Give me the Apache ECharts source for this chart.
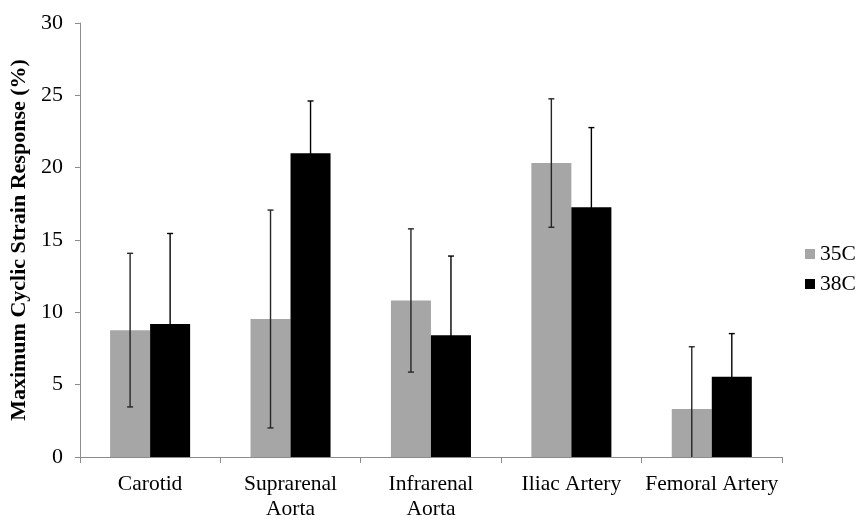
<!DOCTYPE html>
<html>
<head>
<meta charset="utf-8">
<script src="https://cdn.jsdelivr.net/npm/echarts@6/dist/echarts.min.js"></script>
<style>
  html, body { margin: 0; padding: 0; background: #fff; }
  #chart { width: 858px; height: 522px; }
</style>
</head>
<body>
<div id="chart"></div>
<script>
// Arterial segments along the x axis
const categories = ['Carotid', 'Suprarenal\nAorta', 'Infrarenal\nAorta', 'Iliac Artery', 'Femoral Artery'];
const seriesNames = ['35C', '38C'];

// Mean maximum cyclic strain (%) and error (±) per segment
const strain35 = [8.77, 9.54, 10.82, 20.32, 3.31];
const error35 = [5.31, 7.53, 4.95, 4.44, 4.31];
const strain38 = [9.20, 20.99, 8.42, 17.27, 5.54];
const error38 = [6.25, 3.62, 5.47, 5.50, 2.99];

const yTicks = { min: 0, max: 30, interval: 5 };

const FONT = '"Liberation Serif", "Times New Roman", serif';
const CAT_GAP = 0.43; // barCategoryGap fraction
const AXIS_GRAY = '#8c8c8c';

const chart = echarts.init(document.getElementById('chart'));

// Error whisker renderer; side = -1 for the left bar in a group, +1 for the right one
function errorRenderer(means, errs, side, color) {
  return function (params, api) {
    const i = api.value(0);
    const mean = means[i];
    const err = errs[i];
    const band = api.size([1, 0])[0];
    const barW = band * (1 - CAT_GAP) / 2;
    const center = api.coord([i, mean]);
    const x = center[0] + side * barW / 2;
    const hi = api.coord([i, mean + err])[1];
    const lo = api.coord([i, Math.max(0, mean - err)])[1];
    const cap = 3;
    const style = { stroke: color, lineWidth: 1.4, fill: null };
    const children = [
      { type: 'line', shape: { x1: x, y1: hi, x2: x, y2: lo }, style: style },
      { type: 'line', shape: { x1: x - cap, y1: hi, x2: x + cap, y2: hi }, style: style }
    ];
    if (mean - err > 0) {
      children.push({ type: 'line', shape: { x1: x - cap, y1: lo, x2: x + cap, y2: lo }, style: style });
    }
    return { type: 'group', children: children };
  };
}

const option = {
  animation: false,
  backgroundColor: '#ffffff',
  textStyle: { fontFamily: FONT },
  grid: { left: 77, right: 76, top: 23, bottom: 60, containLabel: false },
  legend: {
    orient: 'vertical',
    left: 800,
    top: 238,
    itemWidth: 10,
    itemHeight: 10,
    itemGap: 8,
    icon: 'rect',
    textStyle: { fontFamily: FONT, fontSize: 21.5, color: '#000' },
    data: seriesNames
  },
  xAxis: {
    type: 'category',
    data: categories,
    axisLine: { lineStyle: { color: AXIS_GRAY, width: 1 } },
    axisTick: { show: true, length: 6, lineStyle: { color: AXIS_GRAY } },
    axisLabel: {
      interval: 0,
      margin: 15,
      fontFamily: FONT,
      fontSize: 21.5,
      lineHeight: 25,
      color: '#000'
    }
  },
  yAxis: {
    type: 'value',
    min: yTicks.min,
    max: yTicks.max,
    interval: yTicks.interval,
    name: 'Maximum Cyclic Strain Response (%)',
    nameLocation: 'middle',
    nameGap: 40,
    nameTextStyle: { fontFamily: FONT, fontSize: 22, fontWeight: 'bold', color: '#000' },
    axisLine: { show: true, lineStyle: { color: AXIS_GRAY, width: 1 } },
    axisTick: { show: true, length: 5, lineStyle: { color: AXIS_GRAY } },
    splitLine: { show: false },
    axisLabel: { margin: 17, fontFamily: FONT, fontSize: 22, color: '#000' }
  },
  series: [
    {
      name: seriesNames[0],
      type: 'bar',
      data: strain35,
      barGap: '0%',
      barCategoryGap: (CAT_GAP * 100) + '%',
      itemStyle: { color: '#a6a6a6' }
    },
    {
      name: seriesNames[1],
      type: 'bar',
      data: strain38,
      barGap: '0%',
      barCategoryGap: (CAT_GAP * 100) + '%',
      itemStyle: { color: '#000000' }
    },
    {
      type: 'custom',
      name: 'err35',
      renderItem: errorRenderer(strain35, error35, -1, '#262626'),
      data: strain35.map((v, i) => [i, v]),
      encode: { x: 0, y: 1 },
      z: 10,
      silent: true
    },
    {
      type: 'custom',
      name: 'err38',
      renderItem: errorRenderer(strain38, error38, 1, '#000000'),
      data: strain38.map((v, i) => [i, v]),
      encode: { x: 0, y: 1 },
      z: 10,
      silent: true
    }
  ]
};

chart.setOption(option);
</script>
</body>
</html>
